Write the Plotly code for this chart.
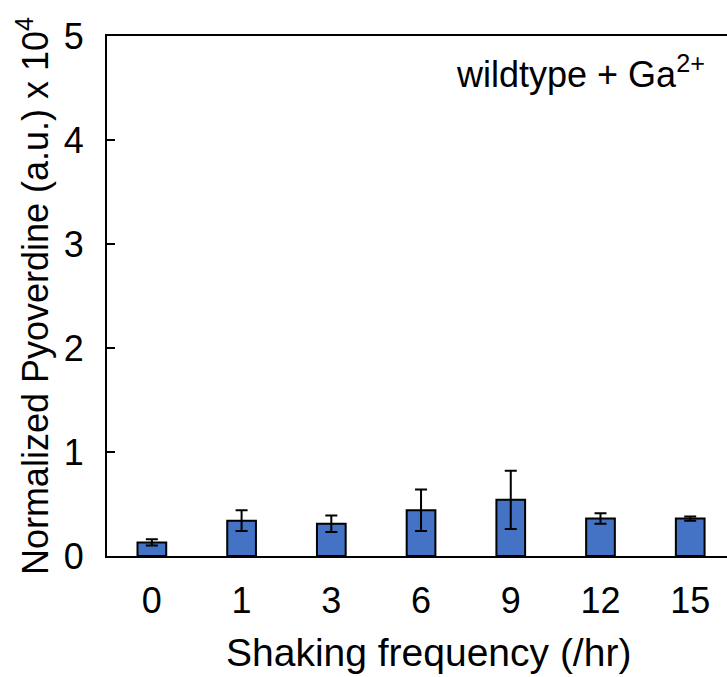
import plotly.graph_objects as go

categories = ["0", "1", "3", "6", "9", "12", "15"]
values = [0.13, 0.34, 0.31, 0.44, 0.54, 0.36, 0.36]
errors = [0.03, 0.10, 0.08, 0.20, 0.28, 0.05, 0.02]
y_ticks = [0, 1, 2, 3, 4, 5]

FONT = "Liberation Sans, Arial, sans-serif"

fig = go.Figure()
fig.add_trace(go.Bar(
    x=categories, y=values,
    width=0.32,
    marker=dict(color="#4472C4", line=dict(color="black", width=2)),
    error_y=dict(type="data", array=errors, visible=True, color="black", thickness=2, width=6),
))

fig.update_layout(
    width=727, height=677,
    margin=dict(l=107, r=0, t=36, b=121),
    paper_bgcolor="white", plot_bgcolor="white",
    showlegend=False,
    font=dict(family=FONT, size=36, color="black"),
    xaxis=dict(
        type="category", range=[-0.5, 6.41],
        showline=True, linecolor="black", linewidth=2, mirror=True,
        ticks="", showgrid=False, zeroline=False,
        tickfont=dict(size=36), ticklabelstandoff=12,
    ),
    yaxis=dict(
        range=[0, 5], tickvals=y_ticks,
        showline=True, linecolor="black", linewidth=2,
        ticks="inside", ticklen=8, tickwidth=2, tickcolor="black",
        showgrid=False, zeroline=False,
        tickfont=dict(size=36), ticklabelstandoff=14,
        title=dict(text="Normalized Pyoverdine (a.u.) x 10<sup>4</sup>", font=dict(size=36), standoff=4),
    ),
    annotations=[
        dict(
            text="wildtype + Ga<sup>2+</sup>", xref="paper", yref="paper",
            x=0.968, y=0.93, xanchor="right", yanchor="middle",
            showarrow=False, font=dict(family=FONT, size=36, color="black"),
        ),
        dict(
            text="Shaking frequency (/hr)", xref="paper", yref="paper",
            x=0.519, y=-0.186, xanchor="center", yanchor="middle",
            showarrow=False, font=dict(family=FONT, size=39, color="black"),
        ),
    ],
)

fig.write_html("out.html")
